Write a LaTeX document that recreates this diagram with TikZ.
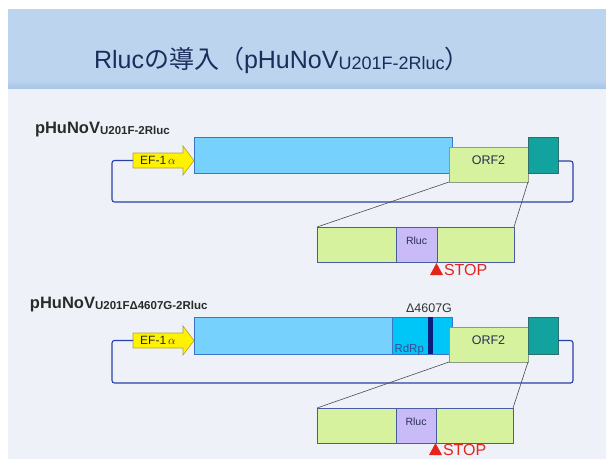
\documentclass[tikz,border=0pt]{standalone}
\usepackage{fontspec}
\setmainfont{Liberation Sans}
\newfontfamily\cjk{Noto Sans CJK JP}
\usetikzlibrary{fit,calc}
\definecolor{hdr}{HTML}{BCD4EE}
\definecolor{hdrdark}{HTML}{A8C5E8}
\definecolor{bodybg}{HTML}{EEF2F8}
\definecolor{titlecol}{HTML}{1B2D5C}
\definecolor{labelcol}{HTML}{2A2A2A}
\definecolor{barblue}{HTML}{76D2FC}
\definecolor{barborder}{HTML}{3C74C8}
\definecolor{cyanpart}{HTML}{00C6F8}
\definecolor{navymark}{HTML}{0A1E7A}
\definecolor{orfgreen}{HTML}{D6F29E}
\definecolor{orfborder}{HTML}{8C9B84}
\definecolor{tealc}{HTML}{12A39F}
\definecolor{tealborder}{HTML}{2E6F6D}
\definecolor{lowborder}{HTML}{4A5CA0}
\definecolor{rlucpurple}{HTML}{C9BBF7}
\definecolor{efyellow}{HTML}{FFF200}
\definecolor{efborder}{HTML}{B0A030}
\definecolor{loopcol}{HTML}{2B3FA8}
\definecolor{stopred}{HTML}{E5241B}
\definecolor{txtdark}{HTML}{2A2F55}
\begin{document}
\begin{tikzpicture}[x=1pt,y=-1pt,
  every node/.style={inner sep=0pt,outer sep=0pt},
  barbox/.style={draw=barborder,fill=barblue,line width=0.6pt},
  cyanbox/.style={draw=barborder,fill=cyanpart,line width=0.6pt},
  markbox/.style={fill=navymark},
  orfbox/.style={draw=orfborder,fill=orfgreen,line width=0.7pt,text=txtdark,font=\fontsize{12.5}{14}\selectfont},
  tealbox/.style={draw=tealborder,fill=tealc,line width=0.6pt},
  grnbox/.style={draw=lowborder,fill=orfgreen,line width=0.6pt},
  rlucbox/.style={draw=lowborder,fill=rlucpurple,line width=0.6pt,text=txtdark,font=\fontsize{10.5}{12}\selectfont},
  efarrow/.style={draw=efborder,fill=efyellow,line width=0.6pt,line join=miter},
  eftext/.style={text=black!85,font=\fontsize{12}{14}\selectfont},
  loopline/.style={draw=loopcol,line width=1.1pt,rounded corners=2.5pt},
  connector/.style={draw=black!70,line width=0.6pt},
  stoptext/.style={text=stopred,font=\fontsize{16}{18}\selectfont,anchor=base west},
  constlabel/.style={text=labelcol,font=\bfseries\fontsize{16.5}{19}\selectfont,anchor=base west}
]
\useasboundingbox (0,0) rectangle (606,459);
\fill[white] (0,0) rectangle (606,459);
\fill[bodybg] (8,9) rectangle (606,459);
\fill[hdr] (8,9) rectangle (606,88);
\shade[top color=hdr,bottom color=hdrdark] (8,80) rectangle (606,88);

% title
\node[anchor=base west,text=titlecol,font=\fontsize{25}{28}\selectfont] (title) at (94,68)
  {Rluc{\cjk の導入（}pHuNoV\raisebox{-1pt}{\fontsize{18}{20}\selectfont U201F-2Rluc}{\cjk ）}};

% ---------- construct 1 ----------
\node[constlabel] (lab1) at (35,133) {pHuNoV\raisebox{-1pt}{\fontsize{11.5}{13}\selectfont U201F-2Rluc}};

\node[barbox,fit={(194,137) (452,173)}] (bar1) {};
\node[orfbox,fit={(449,147) (528,182)}] (orf1) {ORF2};
\node[tealbox,fit={(528,137) (558,173)}] (teal1) {};

\draw[efarrow] (133,153) -- (183,153) -- (183,146) -- (194,160.5) -- (183,175) -- (183,168) -- (133,168) -- cycle;
\node[eftext] (ef1) at (158,160.5) {EF-1\,$\alpha$};
\coordinate (ef1tail) at (133,160.5);

\draw[loopline] (ef1tail) -| (112,202) -| ($(teal1.east)+(15,6)$) -- ($(teal1.east)+(0,6)$);

\node[grnbox,fit={(317,227) (396,262)}] (l1a) {};
\node[rlucbox,fit={(396,227) (437,262)}] (l1b) {Rluc};
\node[grnbox,fit={(437,227) (514,262)}] (l1c) {};

\draw[connector] (orf1.south west) -- (l1a.north west);
\draw[connector] (orf1.south east) -- (l1c.north east);

\node[stoptext] (stop1) at (444,275) {STOP};
\fill[stopred] ($(stop1.base west)+(-14,0)$) -- ($(stop1.base west)+(-1,0)$) -- ($(stop1.base west)+(-7.5,-12)$) -- cycle;

% ---------- construct 2 ----------
\node[constlabel] (lab2) at (30,308) {pHuNoV\raisebox{-1pt}{\fontsize{11.5}{13}\selectfont U201FΔ4607G-2Rluc}};

\node[barbox,fit={(194,317) (452,354)}] (bar2) {};
\node[cyanbox,fit={(392,317) (452,354)}] (rdrpbox) {};
\node[markbox,fit={(428,317.3) (433,353.7)}] (mark2) {};
\node[anchor=base west,text=navymark!80,font=\fontsize{11.5}{13}\selectfont] (rdrp) at (394.5,352) {RdRp};
\node[anchor=base,text=black!80,font=\fontsize{12.5}{14}\selectfont] (del) at (429,312) {Δ4607G};

\node[orfbox,fit={(449,327) (528,362)}] (orf2) {ORF2};
\node[tealbox,fit={(528,317) (558,354)}] (teal2) {};

\draw[efarrow] (133,333) -- (183,333) -- (183,326) -- (194,340.5) -- (183,355) -- (183,348) -- (133,348) -- cycle;
\node[eftext] (ef2) at (158,340.5) {EF-1\,$\alpha$};
\coordinate (ef2tail) at (133,340.5);

\draw[loopline] (ef2tail) -| (112,383) -| ($(teal2.east)+(15,5)$) -- ($(teal2.east)+(0,5)$);

\node[grnbox,fit={(317,408) (396,443)}] (l2a) {};
\node[rlucbox,fit={(396,408) (436,443)}] (l2b) {Rluc};
\node[grnbox,fit={(436,408) (513,443)}] (l2c) {};

\draw[connector] (orf2.south west) -- (l2a.north west);
\draw[connector] (orf2.south east) -- (l2c.north east);

\node[stoptext] (stop2) at (443,455) {STOP};
\fill[stopred] ($(stop2.base west)+(-14,0)$) -- ($(stop2.base west)+(-1,0)$) -- ($(stop2.base west)+(-7.5,-12)$) -- cycle;
\end{tikzpicture}
\end{document}
